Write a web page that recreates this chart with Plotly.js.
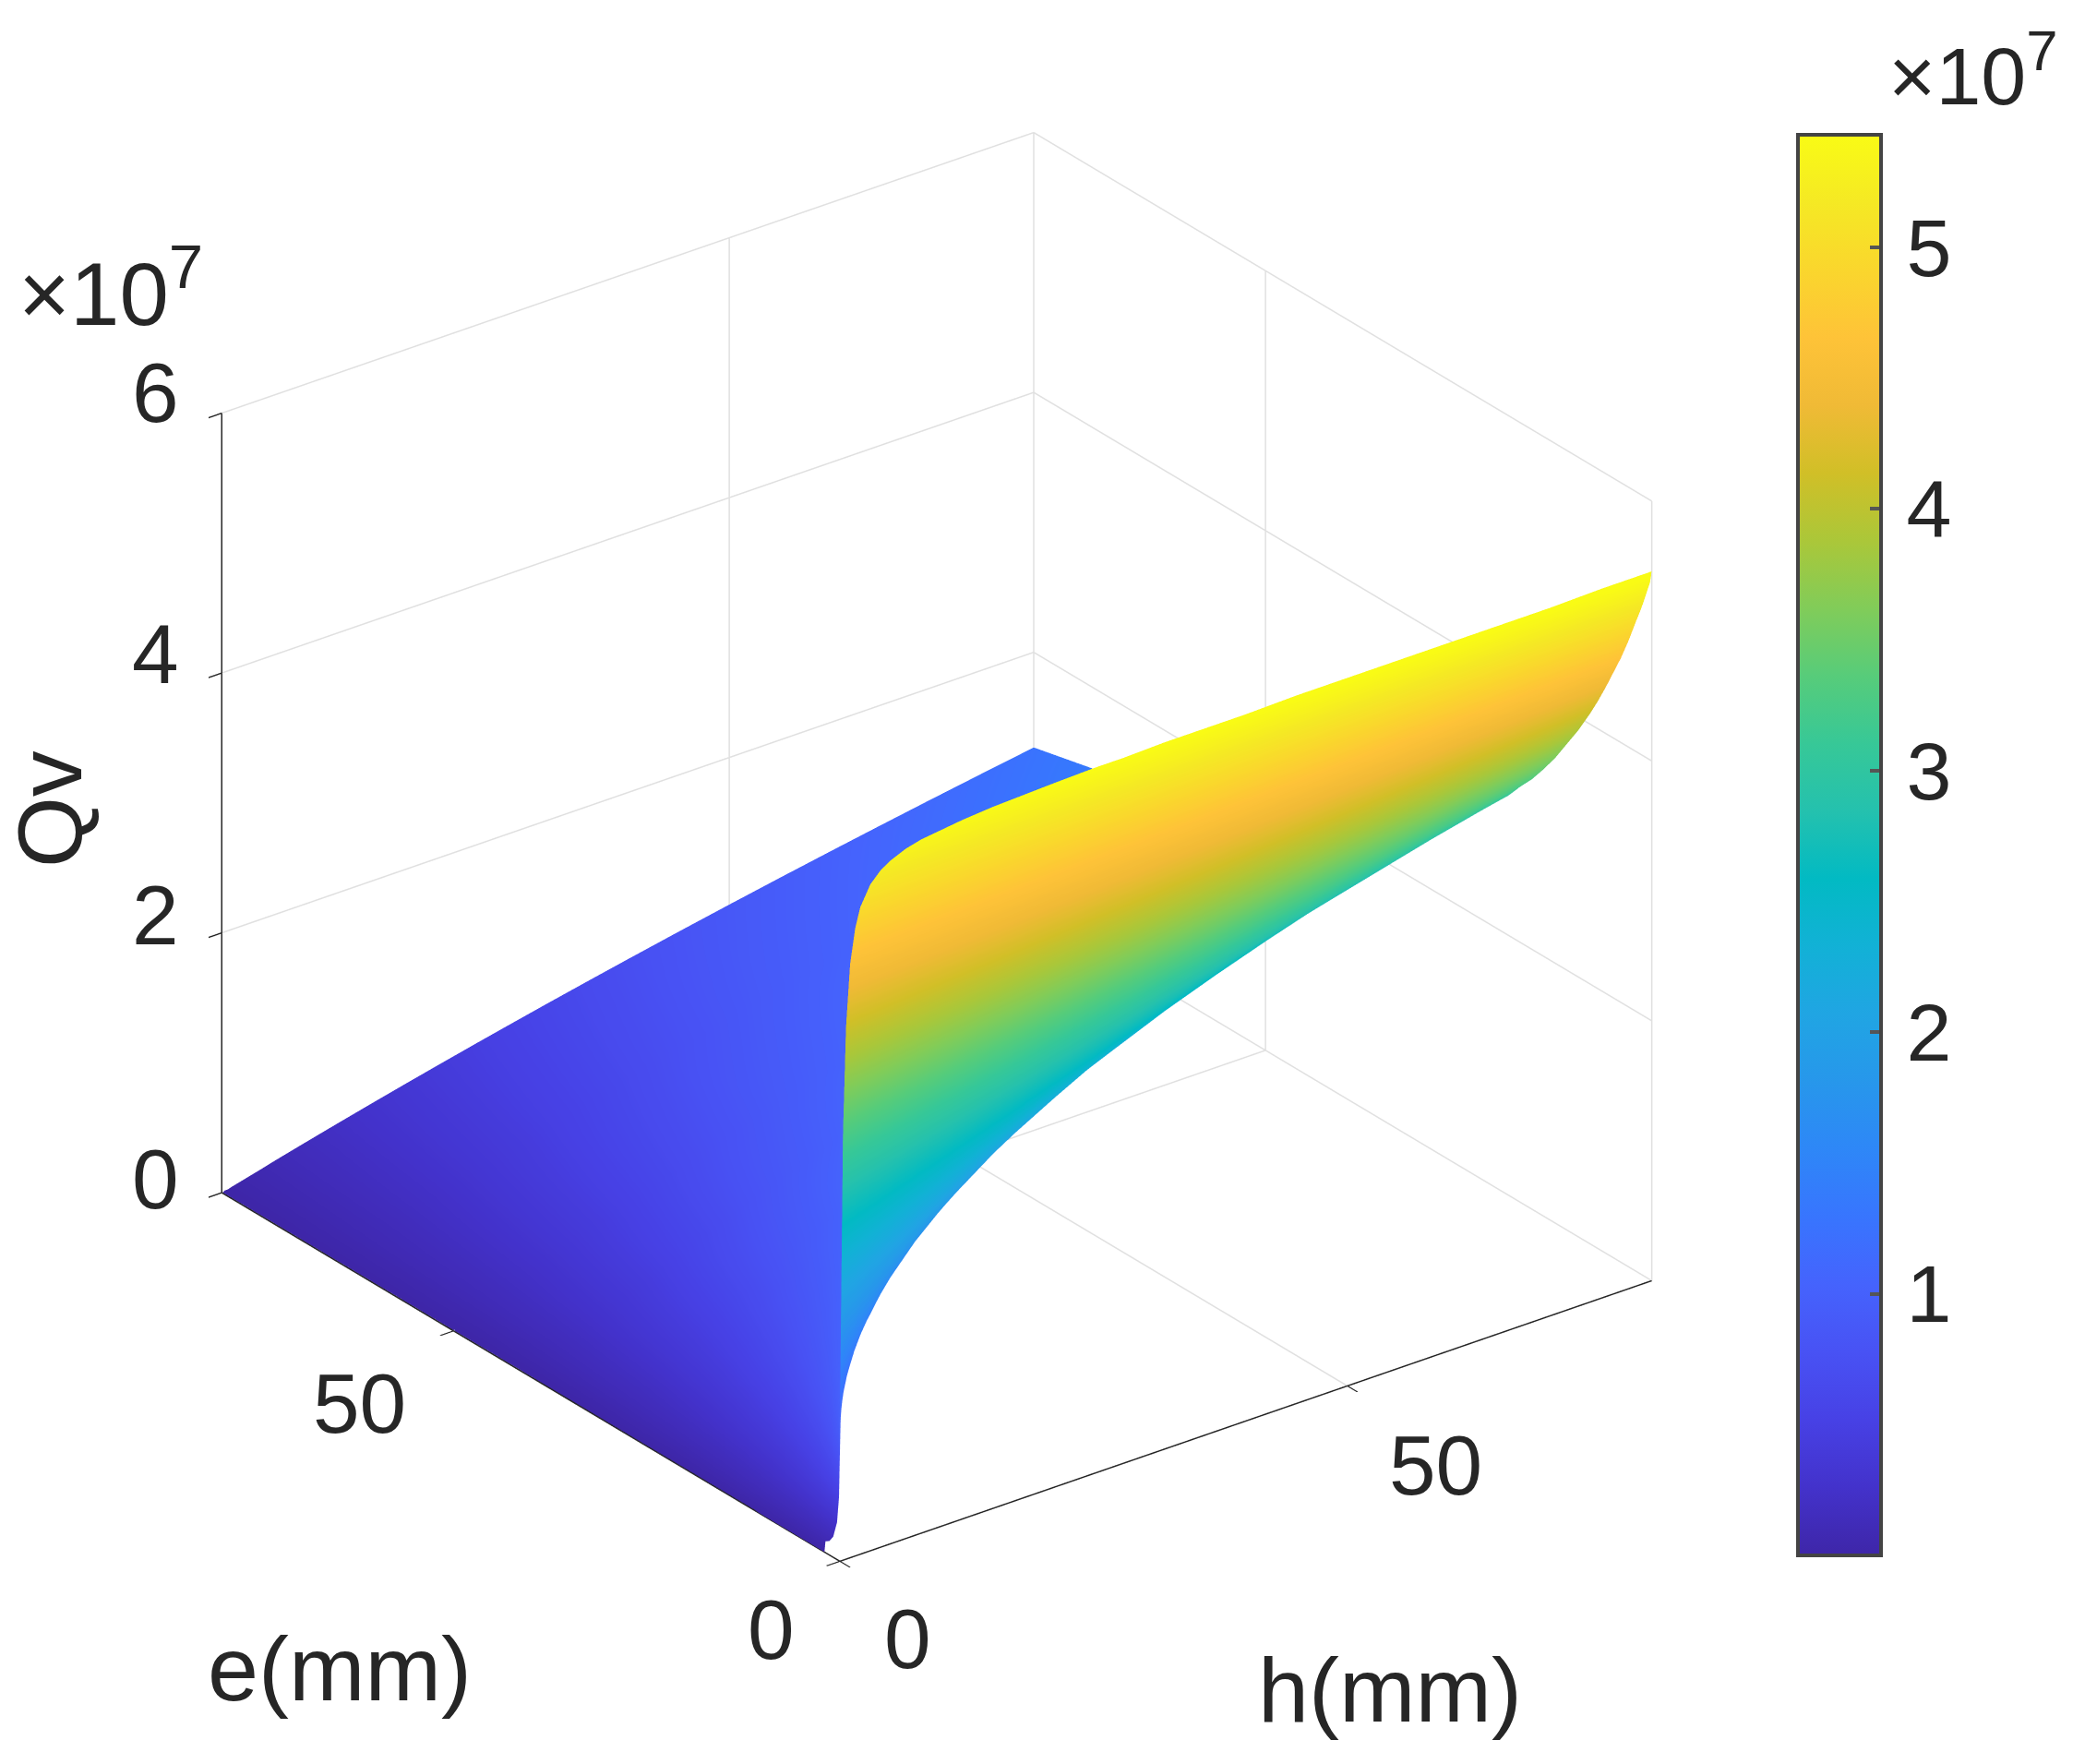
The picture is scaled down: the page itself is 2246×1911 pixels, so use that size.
<!DOCTYPE html>
<html><head><meta charset="utf-8">
<script src="https://cdn.plot.ly/plotly-3.0.1.min.js"></script>
<style>html,body{margin:0;padding:0;background:#fff}#g{width:2246px;height:1911px}</style>
</head><body><div id="g"></div>
<script>
const hVals=[0,0.1,0.3,0.6,1,1.5,2,3,4,5,6.5,8,10,12,15,18,21,25,28,32,36,40,45,50,55,60,65,70,75,80];
const eVals=[0,0.25,0.5,1,1.5,2,3,4,5,6,7,8,9.5,11,12.5,14,15.5,17,18.5,20,22,24,27,30,40,50,65,80];
// Qv in units of 1e7, one row per e value, one column per h value
const qv=[
[null,1.83,3.29,4.10,4.57,4.83,4.98,5.13,5.21,5.26,5.31,5.34,5.36,5.38,5.40,5.41,5.42,5.43,5.43,5.44,5.44,5.44,5.45,5.45,5.45,5.45,5.45,5.45,5.46,5.46],
[null,0.48,1.23,2.01,2.69,3.23,3.60,4.05,4.33,4.51,4.69,4.82,4.93,5.00,5.08,5.14,5.18,5.22,5.24,5.26,5.28,5.29,5.31,5.32,5.33,5.34,5.35,5.35,5.36,5.36],
[null,0.28,0.76,1.34,1.91,2.44,2.83,3.37,3.72,3.97,4.23,4.41,4.59,4.71,4.84,4.93,4.99,5.06,5.10,5.13,5.17,5.19,5.22,5.24,5.25,5.27,5.28,5.29,5.30,5.31],
[null,0.15,0.43,0.80,1.21,1.64,1.98,2.51,2.90,3.20,3.54,3.78,4.03,4.21,4.41,4.55,4.66,4.77,4.83,4.90,4.95,5.00,5.04,5.08,5.11,5.13,5.15,5.17,5.19,5.20],
[null,0.10,0.30,0.57,0.89,1.23,1.53,2.01,2.38,2.68,3.04,3.31,3.59,3.81,4.05,4.23,4.37,4.51,4.59,4.68,4.75,4.81,4.88,4.93,4.97,5.00,5.03,5.06,5.08,5.10],
[0,0.08,0.23,0.44,0.70,0.99,1.24,1.67,2.02,2.31,2.66,2.94,3.24,3.47,3.74,3.95,4.11,4.27,4.37,4.48,4.57,4.64,4.72,4.78,4.84,4.88,4.92,4.95,4.98,5.01],
[0,0.05,0.16,0.31,0.49,0.71,0.90,1.25,1.55,1.81,2.13,2.41,2.71,2.96,3.25,3.49,3.67,3.87,4.00,4.13,4.25,4.34,4.44,4.52,4.59,4.65,4.70,4.75,4.79,4.82],
[0,0.04,0.12,0.23,0.38,0.55,0.71,1.00,1.25,1.48,1.78,2.04,2.33,2.57,2.88,3.12,3.32,3.54,3.68,3.83,3.96,4.07,4.19,4.29,4.37,4.44,4.51,4.56,4.61,4.65],
[0,0.03,0.10,0.19,0.31,0.45,0.58,0.83,1.05,1.26,1.53,1.77,2.04,2.28,2.58,2.82,3.03,3.26,3.41,3.58,3.72,3.84,3.97,4.08,4.17,4.25,4.33,4.39,4.45,4.50],
[0,0.03,0.08,0.16,0.26,0.38,0.50,0.71,0.91,1.09,1.34,1.56,1.82,2.04,2.34,2.58,2.79,3.02,3.18,3.35,3.50,3.63,3.77,3.89,3.99,4.08,4.16,4.23,4.29,4.35],
[0,0.02,0.07,0.14,0.22,0.33,0.43,0.62,0.80,0.96,1.19,1.39,1.64,1.85,2.13,2.37,2.58,2.82,2.97,3.15,3.30,3.44,3.58,3.71,3.82,3.92,4.00,4.08,4.15,4.21],
[0,0.02,0.06,0.12,0.20,0.29,0.38,0.55,0.71,0.86,1.07,1.26,1.49,1.70,1.97,2.20,2.40,2.64,2.79,2.97,3.13,3.27,3.42,3.55,3.67,3.77,3.86,3.94,4.01,4.08],
[0,0.02,0.05,0.10,0.17,0.25,0.33,0.47,0.61,0.75,0.93,1.10,1.31,1.50,1.76,1.98,2.18,2.41,2.56,2.74,2.90,3.04,3.20,3.34,3.46,3.57,3.66,3.75,3.83,3.90],
[0,0.01,0.04,0.09,0.15,0.22,0.28,0.41,0.54,0.66,0.83,0.98,1.17,1.35,1.59,1.80,1.99,2.22,2.37,2.54,2.70,2.85,3.01,3.15,3.27,3.38,3.48,3.58,3.66,3.74],
[0,0.01,0.04,0.08,0.13,0.19,0.25,0.37,0.48,0.59,0.74,0.88,1.06,1.22,1.45,1.65,1.83,2.05,2.20,2.37,2.53,2.67,2.83,2.98,3.10,3.22,3.32,3.42,3.50,3.58],
[0,0.01,0.04,0.07,0.12,0.17,0.23,0.33,0.43,0.53,0.67,0.80,0.97,1.12,1.33,1.52,1.70,1.91,2.05,2.22,2.38,2.52,2.68,2.82,2.95,3.07,3.18,3.27,3.36,3.44],
[0,0.01,0.03,0.06,0.10,0.16,0.20,0.30,0.39,0.48,0.61,0.74,0.89,1.03,1.23,1.42,1.58,1.79,1.92,2.09,2.25,2.39,2.54,2.69,2.82,2.93,3.04,3.14,3.23,3.31],
[0,0.01,0.03,0.06,0.10,0.14,0.19,0.28,0.36,0.45,0.57,0.68,0.82,0.96,1.15,1.32,1.48,1.68,1.81,1.98,2.13,2.26,2.42,2.56,2.69,2.81,2.92,3.02,3.11,3.20],
[0,0.01,0.03,0.05,0.09,0.13,0.17,0.26,0.33,0.41,0.52,0.63,0.77,0.89,1.07,1.24,1.39,1.58,1.71,1.87,2.02,2.15,2.31,2.45,2.58,2.70,2.80,2.90,3.00,3.08],
[0,0.01,0.02,0.05,0.08,0.12,0.16,0.24,0.31,0.38,0.49,0.59,0.72,0.84,1.01,1.17,1.31,1.50,1.62,1.78,1.92,2.05,2.21,2.34,2.47,2.59,2.70,2.80,2.89,2.98],
[0,0.01,0.02,0.04,0.07,0.11,0.15,0.22,0.28,0.35,0.45,0.54,0.66,0.77,0.93,1.08,1.22,1.39,1.51,1.66,1.80,1.93,2.08,2.22,2.34,2.46,2.57,2.67,2.76,2.85],
[0,0.01,0.02,0.04,0.07,0.10,0.13,0.20,0.26,0.32,0.41,0.50,0.61,0.72,0.87,1.01,1.14,1.31,1.42,1.57,1.70,1.83,1.97,2.11,2.23,2.35,2.45,2.55,2.65,2.73],
[0,0.01,0.02,0.04,0.06,0.09,0.12,0.18,0.23,0.29,0.37,0.45,0.55,0.65,0.78,0.92,1.04,1.19,1.30,1.44,1.57,1.69,1.83,1.96,2.08,2.19,2.30,2.39,2.49,2.57],
[0,0.01,0.02,0.03,0.05,0.08,0.11,0.16,0.21,0.26,0.34,0.41,0.50,0.59,0.72,0.84,0.95,1.10,1.20,1.33,1.45,1.57,1.70,1.83,1.94,2.05,2.16,2.25,2.35,2.43],
[0,0,0.01,0.02,0.04,0.06,0.08,0.12,0.16,0.20,0.26,0.31,0.38,0.45,0.56,0.65,0.75,0.87,0.95,1.06,1.17,1.27,1.39,1.50,1.60,1.70,1.80,1.89,1.97,2.05],
[0,0,0.01,0.02,0.03,0.05,0.06,0.10,0.13,0.16,0.21,0.25,0.31,0.37,0.45,0.54,0.62,0.72,0.79,0.89,0.98,1.06,1.17,1.27,1.36,1.45,1.54,1.62,1.70,1.78],
[0,0,0.01,0.02,0.03,0.04,0.05,0.08,0.10,0.12,0.16,0.20,0.24,0.29,0.36,0.42,0.49,0.57,0.63,0.71,0.78,0.86,0.95,1.03,1.11,1.19,1.27,1.34,1.41,1.48],
[0,0,0.01,0.01,0.02,0.03,0.04,0.06,0.08,0.1015,0.1312,0.1605,0.1992,0.2373,0.2934,0.3484,0.4021,0.4721,0.5232,0.5899,0.6546,0.7177,0.7944,0.8685,0.9403,1.0097,1.0773,1.1429,1.2063,1.2679]
];
const QV_UNIT=1e7;
const qvMin=0, qvMax=5.43e7;
const hTicks=[0,50], eTicks=[0,50], zTicks=[0,2e7,4e7,6e7];
const zTickText=['0','2','4','6'];
const zLabelShift=[14,19,20,22];
const cbTicks=[1e7,2e7,3e7,4e7,5e7], cbTickText=['\u200a1','\u200a2','\u200a3','\u200a4','\u200a5'];
const hMax=80,eMax=80,zMax=6e7;
const parula=[[0.2422,0.1504,0.6603],[0.2647,0.1978,0.7952],[0.2783,0.2559,0.8991],[0.2810,0.3228,0.9579],[0.2699,0.3892,0.9906],[0.2206,0.4603,0.9973],[0.1786,0.5289,0.9682],[0.1540,0.5902,0.9218],[0.1248,0.6459,0.8883],[0.0689,0.6948,0.8394],[0.0067,0.7312,0.7660],[0.1408,0.7584,0.6842],[0.2161,0.7843,0.5923],[0.3406,0.8008,0.4789],[0.5044,0.7993,0.3480],[0.6720,0.7793,0.2227],[0.8203,0.7498,0.1535],[0.9393,0.7288,0.2100],[0.9970,0.7659,0.2199],[0.9786,0.8386,0.1766],[0.9597,0.9135,0.1423],[0.9769,0.9839,0.0805]];
const colorscale=parula.map((c,i)=>[i/(parula.length-1),`rgb(${c.map(v=>Math.round(v*255)).join(',')})`]);
const INK='#262626', GRID='#e0e0e0', FONT='"Liberation Sans",Arial,sans-serif';

const surface={type:'surface',x:hVals,y:eVals,z:qv.map(r=>r.map(v=>v===null?null:v*QV_UNIT)),
  cmin:qvMin,cmax:qvMax,colorscale,hoverinfo:'skip',
  lighting:{ambient:1,diffuse:0,specular:0,roughness:1,fresnel:0},
  colorbar:{x:1948/2246,xanchor:'left',y:1-146/1911,yanchor:'top',lenmode:'pixels',len:1539,thicknessmode:'pixels',thickness:90,xpad:0,ypad:0,
    outlinecolor:'#444',outlinewidth:4,ticks:'inside',ticklen:14,tickwidth:4,tickcolor:'#555',
    tickvals:cbTicks,ticktext:cbTickText,tickfont:{family:FONT,size:88,color:INK}}};
const seg=(x,y,z,color,width)=>({type:'scatter3d',mode:'lines',x,y,z,line:{color,width},showlegend:false,hoverinfo:'skip'});
const grid=(x,y,z)=>seg(x,y,z,GRID,3);
const traces=[surface,
  // back-wall and floor grid
  ...[...zTicks.slice(1)].map(z=>grid([0,hMax],[eMax,eMax],[z,z])),
  ...[...zTicks.slice(1)].map(z=>grid([hMax,hMax],[0,eMax],[z,z])),
  grid([hTicks[1],hTicks[1]],[eMax,eMax],[0,zMax]),
  grid([hMax,hMax],[eTicks[1],eTicks[1]],[0,zMax]),
  grid([hTicks[1],hTicks[1]],[0,eMax],[0,0]),
  grid([0,hMax],[eTicks[1],eTicks[1]],[0,0]),
  grid([hMax,hMax],[eMax,eMax],[0,zMax]),
  grid([hMax,hMax],[0,0],[0,zMax]),
  grid([hMax,hMax,0],[0,eMax,eMax],[0,0,0]),
  // axis lines
  seg([0,hMax],[0,0],[0,0],INK,3),
  seg([0,0],[0,eMax],[0,0],INK,3),
  seg([0,0],[eMax,eMax],[0,zMax],INK,3)];
const axis=(range,tickvals)=>({range,autorange:false,tickmode:'array',tickvals,showticklabels:false,title:{text:''},
  showgrid:false,showline:false,zeroline:false,showspikes:false,showbackground:false,
  ticks:'outside',ticklen:18,tickwidth:3,tickcolor:INK});
const tickNote=(x,y,z,text,xshift,yshift)=>({x,y,z,text,showarrow:false,xshift,yshift,xanchor:'center',yanchor:'middle',font:{family:FONT,size:91,color:INK}});
const sceneAnn=[
  tickNote(hTicks[0],0,0,'0',73,-85),
  tickNote(hTicks[1],0,0,'50',95,-86),
  tickNote(0,eTicks[0],0,'0',-75,-75),
  tickNote(0,eTicks[1],0,'50',-102,-79),
  ...zTicks.map((z,i)=>tickNote(0,eMax,z,zTickText[i],-72,zLabelShift[i]))];
const note=(px,py,text,size,extra={})=>Object.assign({xref:'paper',yref:'paper',x:px/2246,y:1-py/1911,xanchor:'center',yanchor:'middle',text,showarrow:false,font:{family:FONT,size,color:INK}},extra);
const layout={width:2246,height:1911,margin:{l:0,r:0,t:0,b:0},paper_bgcolor:'#fff',showlegend:false,
  scene:{domain:{x:[0,0.904],y:[0.04,1]},bgcolor:'#fff',
    camera:{eye:{x:-0.896,y:-1.177,z:0.7535},up:{x:0,y:0,z:1},center:{x:0,y:0,z:0},projection:{type:'orthographic'}},
    aspectmode:'manual',aspectratio:{x:1.205,y:1.205,z:1.033},
    xaxis:axis([0,hMax],hTicks),yaxis:axis([0,eMax],eTicks),zaxis:axis([0,zMax],zTicks),
    annotations:sceneAnn},
  annotations:[
    note(368,1807,'e(mm)',99),
    note(1506,1830,'h(mm)',99),
    note(53,877,'Qv',99,{textangle:-90}),
    note(120,312,'×10<sup>7</sup>',96),
    note(2138,76,'×10<sup>7</sup>',88)]};
Plotly.newPlot('g',traces,layout,{displayModeBar:false});
</script></body></html>
